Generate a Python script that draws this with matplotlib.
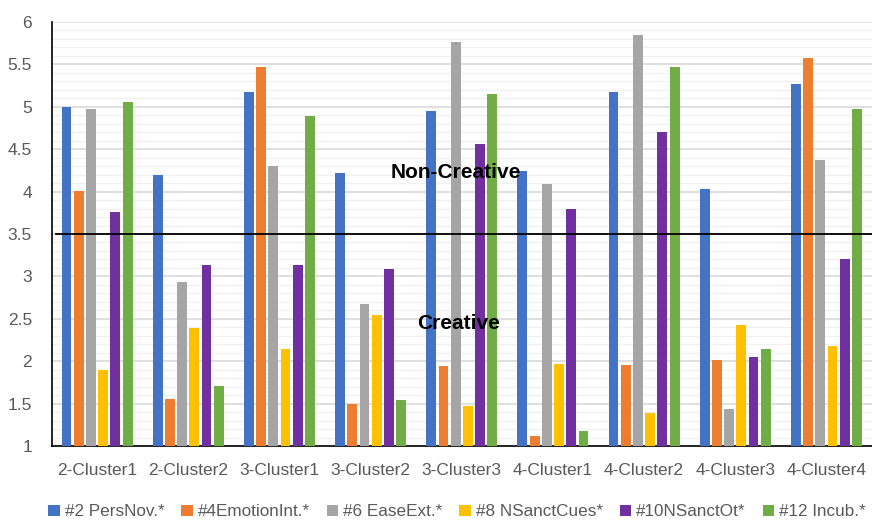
import matplotlib
matplotlib.use("Agg")
import matplotlib.pyplot as plt
import numpy as np
from matplotlib.ticker import MultipleLocator

categories = ["2-Cluster1", "2-Cluster2", "3-Cluster1", "3-Cluster2", "3-Cluster3",
              "4-Cluster1", "4-Cluster2", "4-Cluster3", "4-Cluster4"]
series_names = ["#2 PersNov.*", "#4EmotionInt.*", "#6 EaseExt.*", "#8 NSanctCues*",
                "#10NSanctOt*", "#12 Incub.*"]
pers_nov = [5.00, 4.20, 5.17, 4.22, 4.95, 4.24, 5.17, 4.03, 5.27]
emotion_int = [4.01, 1.56, 5.47, 1.50, 1.94, 1.12, 1.96, 2.01, 5.57]
ease_ext = [4.97, 2.93, 4.30, 2.67, 5.76, 4.09, 5.85, 1.44, 4.37]
nsanct_cues = [1.90, 2.39, 2.14, 2.54, 1.47, 1.97, 1.39, 2.43, 2.18]
nsanct_ot = [3.76, 3.14, 3.14, 3.09, 4.56, 3.79, 4.70, 2.05, 3.20]
incub = [5.06, 1.71, 4.89, 1.54, 5.15, 1.18, 5.47, 2.14, 4.97]
series = [pers_nov, emotion_int, ease_ext, nsanct_cues, nsanct_ot, incub]
colors = ["#4472C4", "#ED7D31", "#A5A5A5", "#FFC000", "#7030A0", "#70AD47"]
threshold = 3.5

plt.rcParams['font.family'] = ['Liberation Sans', 'DejaVu Sans']

fig = plt.figure(figsize=(8.72, 5.20), dpi=100)
ax = fig.add_axes([51.5/872, 1-446/520, 1-51.5/872, (446-22)/520])

x = np.arange(len(categories))
pitch = 0.134
width = 0.108
base = 1.0
for i, (vals, c, name) in enumerate(zip(series, colors, series_names)):
    off = (i - 2.5) * pitch
    ax.bar(x + off, np.array(vals) - base, width=width, bottom=base, color=c,
           label=name, zorder=3)

ax.set_xlim(-0.5, len(categories) - 0.5)
ax.set_ylim(1, 6)
ax.yaxis.set_minor_locator(MultipleLocator(0.1))
ax.set_yticks(np.arange(1, 6.01, 0.5))
ax.set_yticklabels([f"{v:g}" for v in np.arange(1, 6.01, 0.5)])
ax.grid(axis='y', which='major', color='#D9D9D9', linewidth=1.2, zorder=0)
ax.grid(axis='y', which='minor', color='#F0F0F0', linewidth=0.9, zorder=0)
ax.set_xticks(x)
ax.set_xticklabels(categories)
ax.tick_params(axis='both', which='both', length=0, labelsize=12.5, colors='#595959')
ax.tick_params(axis='x', pad=12)
ax.tick_params(axis='y', pad=14)
for s in ['top', 'right']:
    ax.spines[s].set_visible(False)
ax.spines['left'].set_color('#000000')
ax.spines['bottom'].set_color('#000000')
ax.spines['left'].set_linewidth(1.2)
ax.spines['bottom'].set_linewidth(1.2)

ax.axhline(threshold, color='#000000', linewidth=1.3, zorder=4, xmin=0.005)

ax.text(3.94, 4.23, "Non-Creative", ha='center', va='center', fontsize=15,
        fontweight='bold', color='#000000', zorder=5)
ax.text(3.97, 2.45, "Creative", ha='center', va='center', fontsize=15,
        fontweight='bold', color='#000000', zorder=5)

leg = fig.legend(loc='center', bbox_to_anchor=(0.524, 1-512/520), ncol=6, frameon=False,
                 fontsize=12.3, handlelength=0.65, handleheight=0.65, handletextpad=0.3,
                 columnspacing=1.0, labelcolor='#595959', borderpad=0.1)

fig.savefig("out.png", dpi=100)
